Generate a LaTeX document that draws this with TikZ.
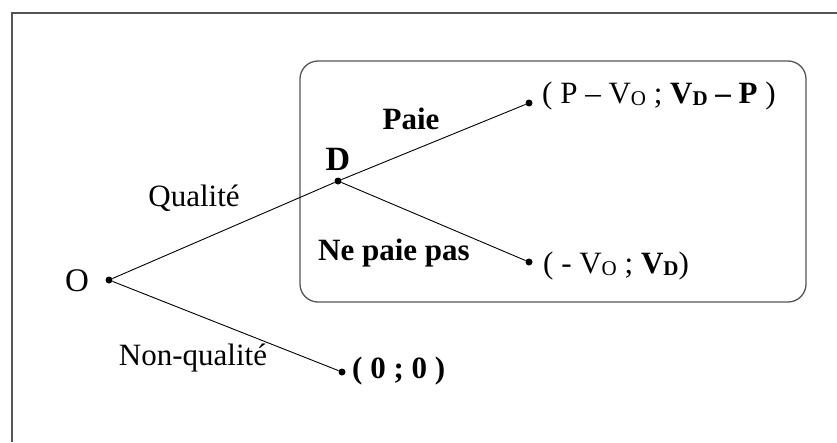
\documentclass[tikz,border=0pt]{standalone}
\usepackage{fontspec}
\setmainfont{Liberation Serif}
\usetikzlibrary{positioning}
\definecolor{framegray}{RGB}{85,85,85}
\newcommand{\lowidx}[1]{\raisebox{-2.5pt}{\fontsize{21}{21}\selectfont #1}}

\tikzset{
  dot/.style={circle, fill=black, inner sep=0pt, minimum size=7pt},
  branch/.style={draw=black, line width=0.9pt},
  lbl/.style={inner sep=0pt, anchor=base, font=\fontsize{31}{36}\selectfont},
  pay/.style={lbl, anchor=base west},
}

\begin{document}
\begin{tikzpicture}[x=1pt, y=-1pt]
        \useasboundingbox (0,0) rectangle (837,442);
        \draw[framegray, line width=1.6pt] (12,442) -- (12,13) -- (837,13);
        \draw[framegray, line width=1.3pt, rounded corners=18pt] (300,61) rectangle (806,302);

        \node[dot] (O) at (109,280) {};
        \node[dot] (D) at (338,181) {};
        \node[dot] (Dpaie) at (529,103) {};
        \node[dot] (Dnopaie) at (529,262) {};
        \node[dot] (Onq) at (342,372) {};

        \draw[branch] (O) -- (D);
        \draw[branch] (O) -- (Onq);
        \draw[branch] (D) -- (Dpaie);
        \draw[branch] (D) -- (Dnopaie);

        \node[lbl, font=\fontsize{33}{36}\selectfont] (labO) at (77,291) {O};
        \node[lbl, font=\fontsize{34}{36}\selectfont\bfseries] (labD) at (338,170) {D};
        \node[lbl] (qual) at (194,206) {Qualité};
        \node[lbl] (nonqual) at (193,365) {Non-qualité};
        \node[lbl, font=\fontsize{31}{36}\selectfont\bfseries] (paie) at (411,129) {Paie};
        \node[lbl, font=\fontsize{31}{36}\selectfont\bfseries] (nepaie) at (394,260) {Ne paie pas};

        \node[pay] (gainPaie) at ([xshift=13pt]Dpaie.center)
            {( P -- V\lowidx{O} ; \textbf{V\lowidx{D} -- P} )};
        \node[pay] (gainNoPaie) at ([xshift=14pt, yshift=-11pt]Dnopaie.center)
            {( - V\lowidx{O} ; \textbf{V\lowidx{D}})};
        \node[pay, font=\fontsize{31}{36}\selectfont\bfseries] (gainNq) at ([xshift=10pt, yshift=-6pt]Onq.center)
            {( 0 ; 0 )};
\end{tikzpicture}
\end{document}
